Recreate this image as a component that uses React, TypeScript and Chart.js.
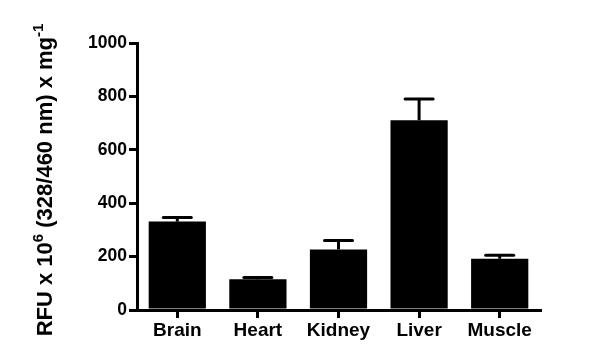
import React, { useEffect, useRef } from "react";
import { Chart, registerables } from "chart.js";

Chart.register(...registerables);

const categories = ["Brain", "Heart", "Kidney", "Liver", "Muscle"];
const means = [331, 115, 227, 711, 192];
const errors = [15, 7, 33, 79, 13];
const yTicks = [0, 200, 400, 600, 800, 1000];

const FONT = "'Liberation Sans', Arial, Helvetica, sans-serif";

const errorBarPlugin = {
  id: "errorBars",
  afterDatasetsDraw(chart: any) {
    const ctx = chart.ctx;
    const meta = chart.getDatasetMeta(0);
    const yScale = chart.scales.y;
    ctx.save();
    ctx.strokeStyle = "#000";
    ctx.lineWidth = 3;
    ctx.lineCap = "butt";
    meta.data.forEach((bar: any, i: number) => {
      const x = bar.x;
      const yTop = yScale.getPixelForValue(means[i] + errors[i]);
      const yMean = yScale.getPixelForValue(means[i]);
      ctx.beginPath();
      ctx.moveTo(x, yMean);
      ctx.lineTo(x, yTop);
      ctx.stroke();
      ctx.beginPath();
      ctx.lineCap = "round";
      ctx.moveTo(x - 14, yTop);
      ctx.lineTo(x + 14, yTop);
      ctx.stroke();
      ctx.lineCap = "butt";
    });
    ctx.restore();
  },
};

const titlePlugin = {
  id: "yTitle",
  afterDraw(chart: any) {
    const ctx = chart.ctx;
    const parts: [string, boolean][] = [
      ["RFU x 10", false],
      ["6", true],
      [" (328/460 nm) x mg", false],
      ["-1", true],
    ];
    const mainFont = `bold 22px ${FONT}`;
    const supFont = `bold 15px ${FONT}`;
    ctx.save();
    let total = 0;
    const widths = parts.map(([t, sup]) => {
      ctx.font = sup ? supFont : mainFont;
      const w = ctx.measureText(t).width;
      total += w;
      return w;
    });
    const cy = 180;
    ctx.translate(52, cy);
    ctx.rotate(-Math.PI / 2);
    ctx.fillStyle = "#000";
    ctx.textBaseline = "alphabetic";
    ctx.textAlign = "left";
    let x = -total / 2;
    parts.forEach(([t, sup], i) => {
      ctx.font = sup ? supFont : mainFont;
      ctx.fillText(t, x, sup ? -9 : 0);
      x += widths[i];
    });
    ctx.restore();
  },
};

export default function App() {
  const ref = useRef<HTMLCanvasElement>(null);
  useEffect(() => {
    if (!ref.current) return;
    const chart = new Chart(ref.current, {
      type: "bar",
      data: {
        labels: categories,
        datasets: [
          {
            data: means,
            backgroundColor: "#000",
            borderColor: "#000",
            borderWidth: 0,
            barPercentage: 0.71,
            categoryPercentage: 1,
          },
        ],
      },
      options: {
        responsive: false,
        animation: false,
        layout: { padding: { top: 43, right: 60, left: 0, bottom: 0 } },
        plugins: {
          legend: { display: false },
          tooltip: { enabled: false },
          title: { display: false },
        },
        scales: {
          x: {
            afterFit: (s: any) => {
              s.height = 51;
            },
            grid: {
              display: true,
              drawOnChartArea: false,
              drawTicks: true,
              tickLength: 8,
              color: "#000",
              lineWidth: 3,
              offset: false,
            },
            border: { display: true, color: "#000", width: 3 },
            ticks: {
              color: "#000",
              font: { family: FONT, size: 19, weight: "bold" },
              padding: 1,
              maxRotation: 0,
            },
          },
          y: {
            min: 0,
            max: 1000,
            afterFit: (s: any) => {
              s.width = 137;
            },
            afterBuildTicks: (s: any) => {
              s.ticks = yTicks.map((v) => ({ value: v }));
            },
            grid: {
              display: true,
              drawOnChartArea: false,
              drawTicks: true,
              tickLength: 8,
              color: "#000",
              lineWidth: 3,
            },
            border: { display: true, color: "#000", width: 3 },
            ticks: {
              color: "#000",
              font: { family: FONT, size: 17.5, weight: "bold" },
              padding: 2,
              callback: (v: any) => String(v),
            },
          },
        },
      },
      plugins: [errorBarPlugin, titlePlugin],
    });
    return () => chart.destroy();
  }, []);
  return (
    <div style={{ position: "absolute", left: 0, top: 0, width: 600, height: 361, background: "#fff" }}>
      <canvas ref={ref} width={600} height={361} style={{ display: "block" }} />
    </div>
  );
}
